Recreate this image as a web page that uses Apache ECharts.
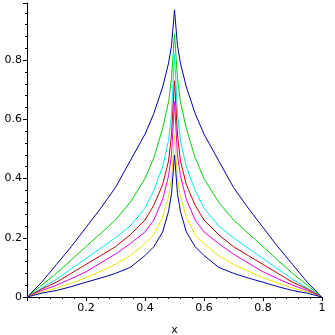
<!DOCTYPE html>
<html>
<head>
<meta charset="utf-8">
<script src="https://cdn.jsdelivr.net/npm/echarts@6/dist/echarts.min.js"></script>
<style>
    html, body { margin: 0; padding: 0; background: #fff; }
    #myChart { width: 335px; height: 335px; }
</style>
</head>
<body>
<div id="myChart"></div>
<script>
var xs = [0, 0.05, 0.1, 0.15, 0.2, 0.25, 0.3, 0.35, 0.4, 0.43, 0.46, 0.48, 0.49, 0.5,
          0.51, 0.52, 0.54, 0.57, 0.6, 0.65, 0.7, 0.75, 0.8, 0.85, 0.9, 0.95, 1];

// curve values, outermost to innermost
var blueOuter = [0, 0.05, 0.11, 0.17, 0.235, 0.30, 0.37, 0.46, 0.55, 0.62, 0.71, 0.79, 0.85, 0.97,
                 0.85, 0.79, 0.71, 0.62, 0.55, 0.46, 0.37, 0.30, 0.235, 0.17, 0.11, 0.05, 0];
var green     = [0, 0.04, 0.08, 0.125, 0.17, 0.215, 0.26, 0.32, 0.40, 0.47, 0.57, 0.66, 0.74, 0.89,
                 0.74, 0.66, 0.57, 0.47, 0.40, 0.32, 0.26, 0.215, 0.17, 0.125, 0.08, 0.04, 0];
var cyan      = [0, 0.03, 0.06, 0.095, 0.13, 0.165, 0.20, 0.24, 0.30, 0.36, 0.44, 0.53, 0.62, 0.82,
                 0.62, 0.53, 0.44, 0.36, 0.30, 0.24, 0.20, 0.165, 0.13, 0.095, 0.06, 0.03, 0];
var red       = [0, 0.027, 0.05, 0.08, 0.11, 0.14, 0.17, 0.21, 0.26, 0.31, 0.38, 0.46, 0.55, 0.73,
                 0.55, 0.46, 0.38, 0.31, 0.26, 0.21, 0.17, 0.14, 0.11, 0.08, 0.05, 0.027, 0];
var magenta   = [0, 0.022, 0.04, 0.062, 0.085, 0.115, 0.145, 0.18, 0.22, 0.26, 0.33, 0.41, 0.48, 0.66,
                 0.48, 0.41, 0.33, 0.26, 0.22, 0.18, 0.145, 0.115, 0.085, 0.062, 0.04, 0.022, 0];
var yellow    = [0, 0.017, 0.03, 0.047, 0.065, 0.087, 0.11, 0.14, 0.18, 0.21, 0.27, 0.34, 0.40, 0.55,
                 0.40, 0.34, 0.27, 0.21, 0.18, 0.14, 0.11, 0.087, 0.065, 0.047, 0.03, 0.017, 0];
var blueInner = [0, 0.013, 0.022, 0.035, 0.05, 0.064, 0.08, 0.10, 0.14, 0.17, 0.22, 0.29, 0.35, 0.48,
                 0.35, 0.29, 0.22, 0.17, 0.14, 0.10, 0.08, 0.064, 0.05, 0.035, 0.022, 0.013, 0];

var curves = [
    {name: 'c1', data: blueOuter, color: '#0000a8'},
    {name: 'c2', data: green, color: '#00d000'},
    {name: 'c3', data: cyan, color: '#00e8e8'},
    {name: 'c4', data: red, color: '#c00000'},
    {name: 'c5', data: magenta, color: '#e000e0'},
    {name: 'c6', data: yellow, color: '#e8e800'},
    {name: 'c7', data: blueInner, color: '#0000a8'}
];

function pairs(ys) {
    var out = [];
    for (var i = 0; i < xs.length; i++) {
        out.push([xs[i], ys[i]]);
    }
    return out;
}

var myChart = echarts.init(document.getElementById('myChart'));

var axisStyle = {
    axisLine: {lineStyle: {color: '#000', width: 1}},
    axisTick: {lineStyle: {color: '#000'}, length: 4},
    minorTick: {show: true, splitNumber: 5, length: 2, lineStyle: {color: '#000'}},
    axisLabel: {color: '#000', fontFamily: 'DejaVu Sans', fontSize: 11},
    splitLine: {show: false}
};

var option = {
    animation: false,
    grid: {left: 27, right: 13, top: 3, bottom: 38, containLabel: false, outerBoundsMode: 'none'},
    xAxis: echarts.util.merge({
        type: 'value',
        min: 0,
        max: 1,
        interval: 0.2,
        name: 'x',
        nameLocation: 'middle',
        nameGap: 28,
        nameTextStyle: {color: '#000', fontFamily: 'DejaVu Sans', fontSize: 11},
        axisLabel: {showMinLabel: false, margin: 6}
    }, axisStyle),
    yAxis: echarts.util.merge({
        type: 'value',
        min: 0,
        max: 0.993,
        interval: 0.2,
        axisLabel: {showMaxLabel: false, margin: 5}
    }, axisStyle),
    series: curves.map(function (c) {
        return {
            name: c.name,
            type: 'line',
            data: pairs(c.data),
            showSymbol: false,
            lineStyle: {color: c.color, width: 1},
            itemStyle: {color: c.color}
        };
    })
};

myChart.setOption(option);
</script>
</body>
</html>
